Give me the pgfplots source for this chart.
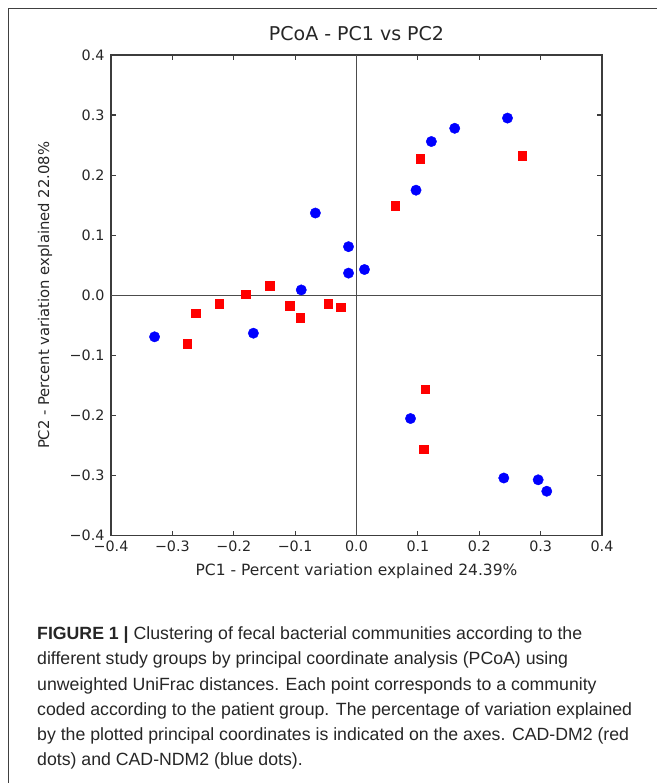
\documentclass[border=0pt]{standalone}
\usepackage{fontspec}
\setmainfont{DejaVu Sans}
\newfontfamily\capfont{Liberation Sans}
\usepackage{pgfplots}
\pgfplotsset{compat=1.18}
\definecolor{spine}{RGB}{60,60,60}
\definecolor{mblue}{RGB}{0,0,255}
\definecolor{mred}{RGB}{255,0,0}
\begin{document}
\begin{tikzpicture}
\path[use as bounding box] (0,0) rectangle (657pt,783pt);
\draw[line width=1.3pt, black!75] (8.5pt,0) -- (8.5pt,774.5pt) -- (657pt,774.5pt);
\begin{axis}[
  at={(111pt,247.3pt)}, anchor=south west, scale only axis,
  width=491pt, height=480.7pt,
  xmin=-0.4, xmax=0.4, ymin=-0.4, ymax=0.4,
  xtick={-0.4,-0.3,-0.2,-0.1,0,0.1,0.2,0.3,0.4},
  ytick={-0.4,-0.3,-0.2,-0.1,0,0.1,0.2,0.3,0.4},
  xticklabels={−0.4,−0.3,−0.2,−0.1,0.0,0.1,0.2,0.3,0.4},
  yticklabels={−0.4,−0.3,−0.2,−0.1,0.0,0.1,0.2,0.3,0.4},
  tick align=inside, major tick length=5pt,
  tick style={line width=1.2pt, spine},
  axis line style={line width=1.5pt, spine},
  ticklabel style={font=\fontsize{14.3}{17}\selectfont, text=black!85},
  xticklabel style={yshift=-1.5pt},
  yticklabel style={xshift=-3pt},
  title={PCoA - PC1 vs PC2},
  title style={at={(0.5,1)}, anchor=center, yshift=15.5pt, font=\fontsize{19}{22}\selectfont, text=black!85},
  xlabel={PC1 - Percent variation explained 24.39\%},
  xlabel style={at={(0.5,0)}, anchor=center, yshift=-36pt, font=\fontsize{15.5}{18}\selectfont, text=black!85},
  ylabel={PC2 - Percent variation explained 22.08\%},
  ylabel style={at={(-0.1344,0.5)}, anchor=center, font=\fontsize{14.8}{18}\selectfont, text=black!85},
  clip=false,
]
\addplot[no marks, line width=1.3pt, black!70] coordinates {(0,-0.4) (0,0.4)};
\addplot[no marks, line width=1.3pt, black!70] coordinates {(-0.4,0) (0.4,0)};
% CAD-DM2 (red squares)
\addplot[only marks, mark=square*, mark size=4.3pt, mark options={draw=mred, fill=mred}] coordinates {
(0.104,0.227) (0.270,0.232) (0.063,0.149)
(-0.141,0.016) (-0.181,0.002) (-0.224,-0.014) (-0.262,-0.030) (-0.276,-0.080)
(-0.109,-0.017) (-0.092,-0.037) (-0.046,-0.014) (-0.026,-0.020)
(0.112,-0.156) (0.109,-0.256)
};
% CAD-NDM2 (blue circles)
\addplot[only marks, mark=*, mark size=5.2pt, mark options={draw=mblue, fill=mblue}] coordinates {
(0.246,0.295) (0.160,0.278) (0.122,0.256) (0.097,0.175) (-0.067,0.137)
(-0.013,0.081) (-0.013,0.037) (0.013,0.043)
(-0.090,0.009) (-0.329,-0.069) (-0.168,-0.063) (0.088,-0.205)
(0.240,-0.304) (0.296,-0.307) (0.310,-0.326)
};
\end{axis}
\begin{scope}[every node/.style={anchor=base west, inner sep=0pt, font=\capfont\fontsize{17.7}{21}\selectfont, text=black!85}]
\node at (37pt,{783pt-640pt}) {\textbf{FIGURE 1 |} Clustering of fecal bacterial communities according to the};
\node at (37pt,{783pt-665pt}) {different study groups by principal coordinate analysis (PCoA) using};
\node at (37pt,{783pt-691pt}) {unweighted UniFrac distances. Each point corresponds to a community};
\node at (37pt,{783pt-716pt}) {coded according to the patient group. The percentage of variation explained};
\node at (37pt,{783pt-741pt}) {by the plotted principal coordinates is indicated on the axes. CAD-DM2 (red};
\node at (37pt,{783pt-766pt}) {dots) and CAD-NDM2 (blue dots).};
\end{scope}
\end{tikzpicture}
\end{document}
